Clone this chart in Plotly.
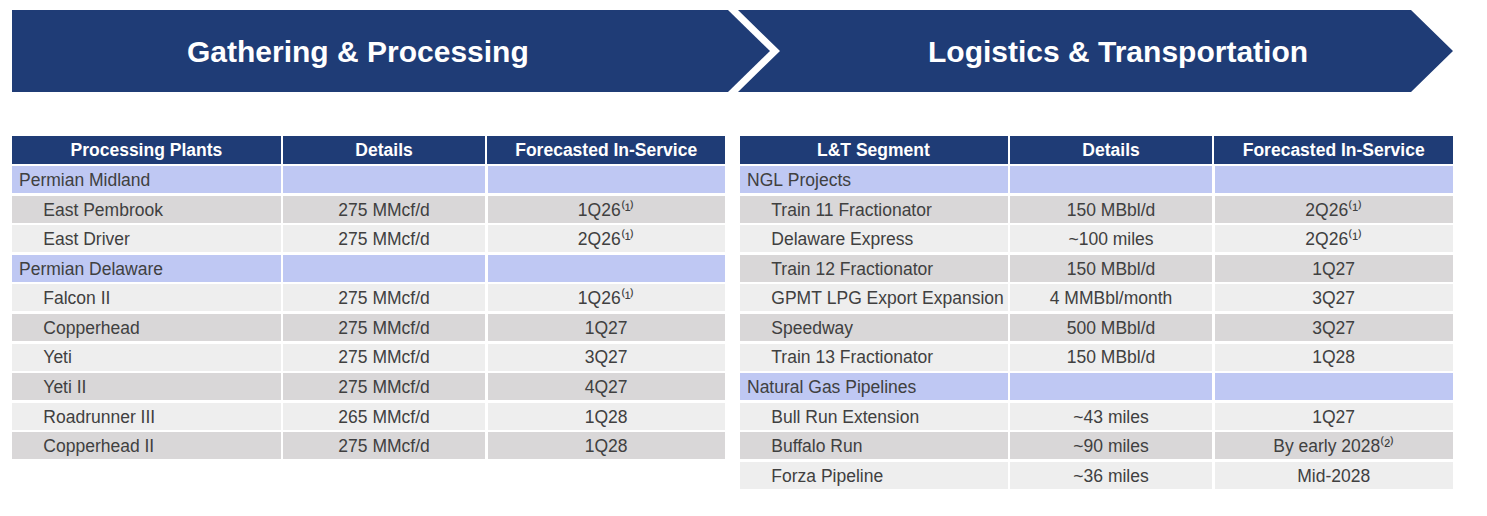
import plotly.graph_objects as go

W, H = 1487, 516

# Gathering & Processing table
gp_plants = ["Permian Midland", "East Pembrook", "East Driver", "Permian Delaware",
             "Falcon II", "Copperhead", "Yeti", "Yeti II", "Roadrunner III", "Copperhead II"]
gp_details = ["", "275 MMcf/d", "275 MMcf/d", "", "275 MMcf/d", "275 MMcf/d",
              "275 MMcf/d", "275 MMcf/d", "265 MMcf/d", "275 MMcf/d"]
gp_in_service = ["", "1Q26", "2Q26", "", "1Q26", "1Q27", "3Q27", "4Q27", "1Q28", "1Q28"]
gp_notes = [0, 1, 1, 0, 1, 0, 0, 0, 0, 0]

# Logistics & Transportation table
lt_segments = ["NGL Projects", "Train 11 Fractionator", "Delaware Express", "Train 12 Fractionator",
               "GPMT LPG Export Expansion", "Speedway", "Train 13 Fractionator",
               "Natural Gas Pipelines", "Bull Run Extension", "Buffalo Run", "Forza Pipeline"]
lt_details = ["", "150 MBbl/d", "~100 miles", "150 MBbl/d", "4 MMBbl/month", "500 MBbl/d",
              "150 MBbl/d", "", "~43 miles", "~90 miles", "~36 miles"]
lt_in_service = ["", "2Q26", "2Q26", "1Q27", "3Q27", "3Q27", "1Q28", "", "1Q27",
                 "By early 2028", "Mid-2028"]
lt_notes = [0, 1, 1, 0, 0, 0, 0, 0, 0, 2, 0]

headers_gp = ["Processing Plants", "Details", "Forecasted In-Service"]
headers_lt = ["L&T Segment", "Details", "Forecasted In-Service"]
banner_titles = ["Gathering & Processing", "Logistics & Transportation"]

NAVY = "#1f3c76"
GROUP = "#bfc8f3"
DARK = "#d9d7d8"
LIGHT = "#eeeeee"
TXT = "#404040"
FONT = "Liberation Sans"
SUP = {1: "\u207d\u00b9\u207e", 2: "\u207d\u00b2\u207e"}
TOP = 135

fig = go.Figure()


def nb(s):
    # keep every cell on one line
    return s.replace(" ", "\u00a0")


def add_table(names, details, dates, notes, headers, x0, x1, widths):
    is_group = [d == "" for d in details]
    col1 = [nb(n) if g else "\u00a0" * 5 + nb(n) for n, g in zip(names, is_group)]
    col2 = [nb(d) for d in details]
    col3 = [nb(d) + SUP.get(k, "") for d, k in zip(dates, notes)]
    fills = [GROUP if g else (DARK if i % 2 == 1 else LIGHT)
             for i, g in enumerate(is_group)]

    # plotly grows a table row when a cell holds "&", so such headers go on top as annotations
    head_vals = []
    left = x0
    scale = (x1 - x0) / sum(widths)
    for h, w in zip(headers, widths):
        if "&" in h:
            head_vals.append("")
            fig.add_annotation(x=left + w * scale / 2, y=TOP + 15, xref="x", yref="y",
                               text=f"<b>{h}</b>", showarrow=False,
                               font=dict(family=FONT, size=17.5, color="white"))
        else:
            head_vals.append(nb(h))
        left += w * scale

    fig.add_trace(go.Table(
        domain=dict(x=[x0 / W, x1 / W], y=[0, 1 - TOP / H]),
        columnwidth=widths,
        header=dict(
            values=head_vals,
            fill_color=NAVY, line=dict(color="white", width=2),
            font=dict(family=FONT, size=17.5, color="white", weight="bold"),
            align="center", height=30,
        ),
        cells=dict(
            values=[col1, col2, col3],
            fill_color=[fills, fills, fills],
            line=dict(color="white", width=2.5),
            font=dict(family=FONT, size=17.5, color=TXT),
            align=["left", "center", "center"], height=29.55,
        ),
    ))


add_table(gp_plants, gp_details, gp_in_service, gp_notes, headers_gp,
          11, 726, [270, 204, 239])
add_table(lt_segments, lt_details, lt_in_service, lt_notes, headers_lt,
          739, 1454, [269, 204, 240])

# chevron banners
fig.add_shape(type="path", xref="x", yref="y", line_width=0, fillcolor=NAVY,
              path="M 12 10 L 728 10 L 770 51 L 728 92 L 12 92 Z")
fig.add_shape(type="path", xref="x", yref="y", line_width=0, fillcolor=NAVY,
              path="M 738 10 L 1411 10 L 1453 51 L 1411 92 L 738 92 L 780 51 Z")
for title, cx in zip(banner_titles, [358, 1118]):
    fig.add_annotation(x=cx, y=51, xref="x", yref="y", text=f"<b>{title}</b>",
                       showarrow=False, font=dict(family=FONT, size=30, color="white"))

fig.update_layout(
    width=W, height=H, margin=dict(l=0, r=0, t=0, b=0),
    paper_bgcolor="white", plot_bgcolor="white", showlegend=False,
    xaxis=dict(range=[0, W], visible=False, fixedrange=True),
    yaxis=dict(range=[H, 0], visible=False, fixedrange=True),
)

fig.write_html("out.html", post_script="document.body.style.margin='0';",
               config={"displayModeBar": False})
